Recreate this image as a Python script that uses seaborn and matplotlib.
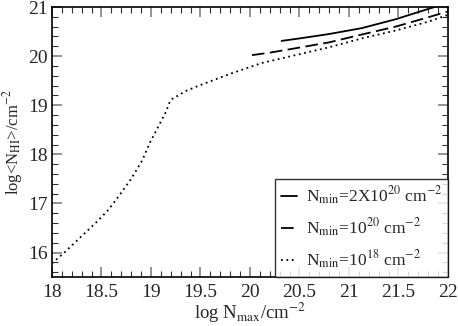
import matplotlib
matplotlib.use('Agg')
import matplotlib.pyplot as plt
import pandas as pd
import seaborn as sns
from matplotlib.ticker import MultipleLocator

sns.set_style('ticks')
plt.rcParams['font.family'] = ['Liberation Serif', 'DejaVu Serif']
plt.rcParams['mathtext.fontset'] = 'stix'

# log N_max vs log <N_HI>, one curve per N_min threshold
x_2e20 = [20.32, 20.5, 20.8, 21.13, 21.47, 21.8, 21.9]
y_2e20 = [20.31, 20.36, 20.45, 20.57, 20.75, 20.96, 21.02]

x_1e20 = [20.02, 20.2, 20.46, 20.8, 21.13, 21.47, 21.8, 22.0]
y_1e20 = [20.02, 20.07, 20.16, 20.28, 20.44, 20.6, 20.79, 20.91]

x_1e18 = [18.0, 18.13, 18.24, 18.35, 18.46, 18.57, 18.69, 18.8, 18.91, 18.99,
          19.06, 19.15, 19.19, 19.23, 19.27, 19.34, 19.46, 19.8,
          20.12, 20.46, 20.8, 21.13, 21.47, 21.8, 22.0]
y_1e18 = [15.78, 16.01, 16.22, 16.43, 16.64, 16.87, 17.19, 17.5, 17.87, 18.24,
          18.51, 18.86, 19.07, 19.16, 19.19, 19.28, 19.38, 19.64,
          19.86, 20.02, 20.18, 20.36, 20.52, 20.7, 20.84]

labels = [r'N$_{\rm min}$=2X10$^{20}$ cm$^{-2}$',
          r'N$_{\rm min}$=10$^{20}$ cm$^{-2}$',
          r'N$_{\rm min}$=10$^{18}$ cm$^{-2}$']

df = pd.concat([
    pd.DataFrame({'x': x_2e20, 'y': y_2e20, 'case': labels[0]}),
    pd.DataFrame({'x': x_1e20, 'y': y_1e20, 'case': labels[1]}),
    pd.DataFrame({'x': x_1e18, 'y': y_1e18, 'case': labels[2]}),
])

fig = plt.figure(figsize=(4.58, 3.26), dpi=100)
ax = fig.add_axes([0.1135, 0.150, 0.8645, 0.8285])

styles = {labels[0]: '', labels[1]: (7, 3), labels[2]: (1, 2)}
sns.lineplot(data=df, x='x', y='y', hue='case', style='case',
             palette=['black'] * 3, dashes=styles, sort=False,
             linewidth=1.3, ax=ax, estimator=None)

ax.set_xlim(18, 22)
ax.set_ylim(15.5, 21)
ax.xaxis.set_major_locator(MultipleLocator(0.5))
ax.xaxis.set_minor_locator(MultipleLocator(0.1))
ax.yaxis.set_major_locator(MultipleLocator(1))
ax.yaxis.set_minor_locator(MultipleLocator(0.2))
ax.set_xticklabels([f'{t:g}' for t in ax.get_xticks()])
ax.tick_params(which='major', direction='in', length=7, width=1.2,
               color='0.5', top=True, right=True, labelsize=14, pad=5)
ax.tick_params(axis='y', which='major', pad=3)
ax.tick_params(which='minor', direction='in', length=4, width=0.8,
               color='0.2', top=True, right=True)
for s in ax.spines.values():
    s.set_linewidth(1.2)
    s.set_color('black')

ax.set_xlabel(r'log N$_{\rm max}$/cm$^{-2}$', fontsize=13.5, labelpad=0)
ax.set_ylabel(r'log<N$_{\rm HI}$>/cm$^{-2}$', fontsize=12, labelpad=2)

leg = ax.legend(loc='lower right', fontsize=12.5, frameon=True, fancybox=False,
                handlelength=0.9, handletextpad=0.5, borderaxespad=0,
                labelspacing=0.55, borderpad=0.35)
leg.get_frame().set_edgecolor('black')
leg.get_frame().set_linewidth(1.0)

fig.savefig('out.png', dpi=100)
